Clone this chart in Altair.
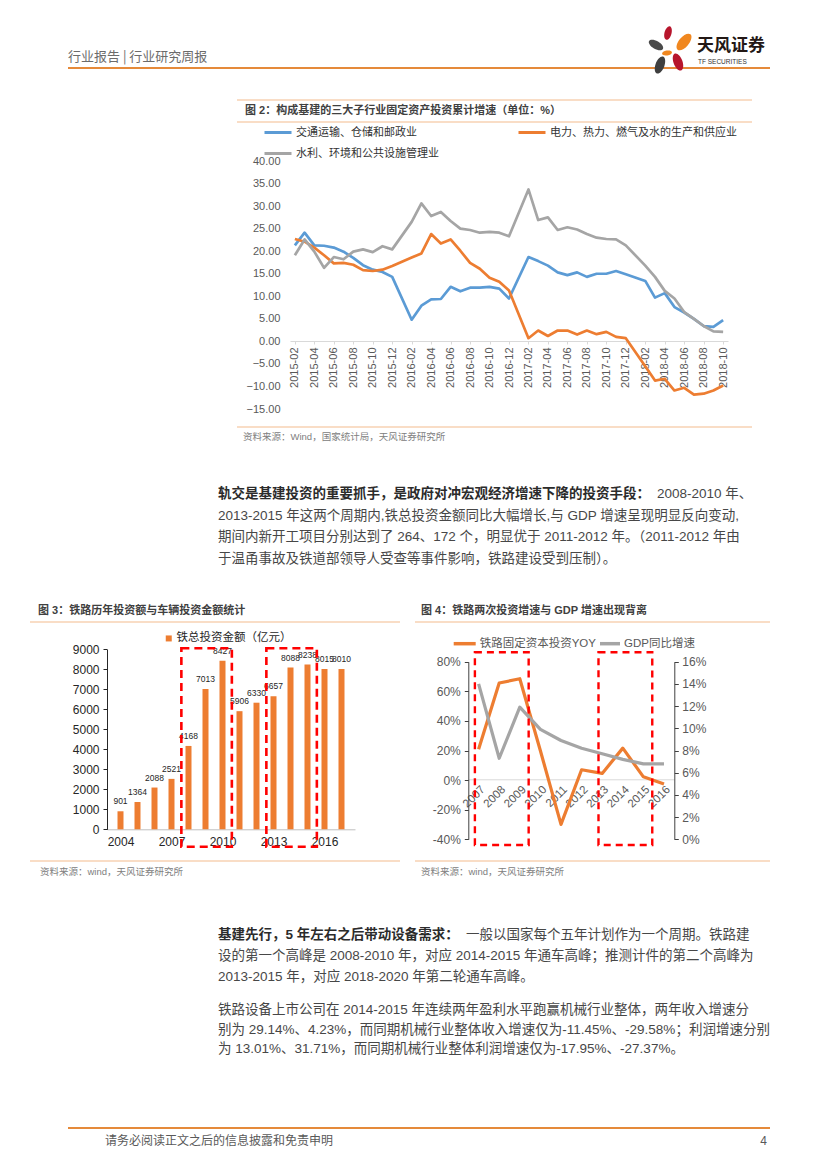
import altair as alt
import pandas as pd

W, H = 811, 1150
CJK = "Noto Sans CJK SC"
LAT = "Liberation Sans"
MIX = "Liberation Sans, Noto Sans CJK SC"
HEAD_LINE = "#E58A3A"
THIN_LINE = "#F4BC8E"
TXT = "#474747"

# ---------------- Figure 2 : cumulative FAI growth (%) ----------------
fig2_axis_months = [
    "2015-02", "2015-03", "2015-04", "2015-05", "2015-06", "2015-07", "2015-08", "2015-09", "2015-10", "2015-11", "2015-12",
    "2016-01", "2016-02", "2016-03", "2016-04", "2016-05", "2016-06", "2016-07", "2016-08", "2016-09", "2016-10", "2016-11", "2016-12",
    "2017-01", "2017-02", "2017-03", "2017-04", "2017-05", "2017-06", "2017-07", "2017-08", "2017-09", "2017-10", "2017-11", "2017-12",
    "2018-01", "2018-02", "2018-03", "2018-04", "2018-05", "2018-06", "2018-07", "2018-08", "2018-09", "2018-10",
]
fig2_tick_months = [
    "2015-02", "2015-04", "2015-06", "2015-08", "2015-10", "2015-12",
    "2016-02", "2016-04", "2016-06", "2016-08", "2016-10", "2016-12",
    "2017-02", "2017-04", "2017-06", "2017-08", "2017-10", "2017-12",
    "2018-02", "2018-04", "2018-06", "2018-08", "2018-10",
]
fig2_months = [
    "2015-02", "2015-03", "2015-04", "2015-05", "2015-06", "2015-07", "2015-08", "2015-09", "2015-10", "2015-11", "2015-12",
    "2016-02", "2016-03", "2016-04", "2016-05", "2016-06", "2016-07", "2016-08", "2016-09", "2016-10", "2016-11", "2016-12",
    "2017-02", "2017-03", "2017-04", "2017-05", "2017-06", "2017-07", "2017-08", "2017-09", "2017-10", "2017-11", "2017-12",
    "2018-02", "2018-03", "2018-04", "2018-05", "2018-06", "2018-07", "2018-08", "2018-09", "2018-10",
]
fig2_transport = [
    21.3, 24.1, 21.3, 21.2, 20.8, 19.9, 18.5, 16.9, 15.9, 15.4, 14.3,
    4.8, 7.9, 9.3, 9.4, 12.1, 11.1, 11.9, 11.9, 12.1, 11.7, 9.5,
    18.7, 17.8, 16.8, 15.3, 14.7, 15.3, 14.3, 15.0, 15.0, 15.6, 14.9,
    13.4, 9.7, 10.7, 7.6, 6.4, 5.0, 3.4, 3.2, 4.7,
]
fig2_power = [
    22.7, 22.1, 20.8, 19.1, 17.3, 17.4, 17.0, 15.8, 15.6, 15.9, 16.7,
    18.6, 19.5, 23.8, 21.7, 22.6, 20.1, 17.4, 16.1, 14.1, 13.2, 11.3,
    0.7, 2.4, 1.2, 2.4, 2.4, 1.5, 2.4, 1.6, 2.1, 1.0, 0.7,
    -5.5, -8.7, -8.3, -10.9, -10.3, -11.8, -11.6, -10.9, -9.8,
]
fig2_water = [
    19.1, 22.6, 19.9, 16.3, 18.7, 18.2, 19.9, 20.4, 19.8, 21.1, 20.4,
    26.5, 30.6, 27.8, 28.7, 26.7, 25.0, 24.7, 24.1, 24.3, 24.1, 23.3,
    33.7, 26.9, 27.5, 24.7, 25.3, 24.8, 23.8, 23.0, 22.7, 22.6, 21.3,
    16.8, 14.3, 11.2, 9.5, 6.5, 5.0, 3.4, 2.2, 2.1,
]
fig2_series = ["交通运输、仓储和邮政业", "电力、热力、燃气及水的生产和供应业", "水利、环境和公共设施管理业"]
fig2_colors = ["#5B9BD5", "#ED7D31", "#A5A5A5"]
fig2_yticks = [-15, -10, -5, 0, 5, 10, 15, 20, 25, 30, 35, 40]

# ---------------- Figure 3 : railway investment (100m yuan) ----------------
fig3_years = [2004, 2005, 2006, 2007, 2008, 2009, 2010, 2011, 2012, 2013, 2014, 2015, 2016, 2017]
fig3_invest = [901, 1364, 2088, 2521, 4168, 7013, 8427, 5906, 6330, 6657, 8088, 8238, 8015, 8010]
fig3_xticks = [2004, 2007, 2010, 2013, 2016]
fig3_yticks = [0, 1000, 2000, 3000, 4000, 5000, 6000, 7000, 8000, 9000]
fig3_series = ["铁总投资金额（亿元）"]
fig3_hl_start = [2008, 2013]
fig3_hl_end = [2010, 2015]

# ---------------- Figure 4 : railway FAI yoy vs GDP growth ----------------
fig4_years = [2007, 2008, 2009, 2010, 2011, 2012, 2013, 2014, 2015, 2016]
fig4_rail = [20.8, 65.6, 68.5, 19.8, -29.9, 7.0, 4.5, 21.6, 2.2, -2.7]
fig4_gdp = [14.0, 7.3, 11.9, 9.9, 8.9, 8.2, 7.7, 7.2, 6.8, 6.8]
fig4_series = ["铁路固定资本投资YOY", "GDP同比增速"]
fig4_left_ticks = [-40, -20, 0, 20, 40, 60, 80]
fig4_right_ticks = [0, 2, 4, 6, 8, 10, 12, 14, 16]
fig4_hl_start = [2007, 2013]
fig4_hl_end = [2009, 2015]

# ---------------- Page texts ----------------
header_text = "行业报告 | 行业研究周报"
logo_cn = "天风证券"
logo_en = "TF SECURITIES"
fig2_title = "图 2：构成基建的三大子行业固定资产投资累计增速（单位：%）"
fig2_source = "资料来源：Wind，国家统计局，天风证券研究所"
fig3_title = "图 3：铁路历年投资额与车辆投资金额统计"
fig4_title = "图 4：铁路两次投资增速与 GDP 增速出现背离"
fig34_source = "资料来源：wind，天风证券研究所"
para1_bold = "轨交是基建投资的重要抓手，是政府对冲宏观经济增速下降的投资手段："
para1_lines = [
    "2008-2010 年、",
    "2013-2015 年这两个周期内,铁总投资金额同比大幅增长,与 GDP 增速呈现明显反向变动,",
    "期间内新开工项目分别达到了 264、172 个，明显优于 2011-2012 年。（2011-2012 年由",
    "于温甬事故及铁道部领导人受查等事件影响，铁路建设受到压制）。",
]
para2_bold = "基建先行，5 年左右之后带动设备需求："
para2_lines = [
    "一般以国家每个五年计划作为一个周期。铁路建",
    "设的第一个高峰是 2008-2010 年，对应 2014-2015 年通车高峰；推测计件的第二个高峰为",
    "2013-2015  年，对应 2018-2020 年第二轮通车高峰。",
]
para3_lines = [
    "铁路设备上市公司在 2014-2015 年连续两年盈利水平跑赢机械行业整体，两年收入增速分",
    "别为 29.14%、4.23%，而同期机械行业整体收入增速仅为-11.45%、-29.58%；利润增速分别",
    "为 13.01%、31.71%，而同期机械行业整体利润增速仅为-17.95%、-27.37%。",
]
footer_text = "请务必阅读正文之后的信息披露和免责申明"
page_no = "4"

one = pd.DataFrame({"k": [0]})


def text_layer(txt, x, y, size, color=TXT, weight="normal", font=MIX, align="left"):
    return alt.Chart(one).mark_text(
        text=txt, align=align, baseline="middle", fontSize=size, font=font,
        fontWeight=weight, color=color,
    ).encode(x=alt.value(x), y=alt.value(y))


def hrule(x1, x2, y, color, width=1.0):
    return alt.Chart(one).mark_rule(color=color, strokeWidth=width).encode(
        x=alt.value(x1), x2=alt.value(x2), y=alt.value(y)
    )


ELLIPSE = "M0,-1 A0.5,1 0 1,1 0,1 A0.5,1 0 1,1 0,-1 Z"


def petal(x, y, h, angle, color):
    return alt.Chart(one).mark_point(
        shape=ELLIPSE, filled=True, size=h * h, angle=angle, color=color,
        opacity=1, strokeWidth=0,
    ).encode(x=alt.value(x), y=alt.value(y))


decor = [
    # header
    text_layer(header_text, 60, 49, 13, "#6b6b6b", font=CJK),
    hrule(60, 762, 60, HEAD_LINE, 1.8),
    petal(660, 25, 14, 15, "#B7152C"),
    petal(676, 34, 20, 40, "#F0871F"),
    petal(648, 37, 16, 300, "#4A4A4A"),
    petal(659, 45, 10, 80, "#F0871F"),
    petal(670, 54, 18, 340, "#B7152C"),
    petal(652, 57, 18, 20, "#3F3F3F"),
    text_layer(logo_cn, 689, 38, 17, "#231815", weight="bold", font=CJK),
    text_layer(logo_en, 690, 54, 6.5, "#333333", font=LAT),
    # figure 2 frame
    hrule(229, 744, 92, THIN_LINE, 1.2),
    text_layer(fig2_title, 237, 103, 11, "#404040", weight="bold"),
    hrule(229, 744, 114, THIN_LINE, 1.2),
    hrule(229, 744, 419, THIN_LINE, 1.2),
    text_layer(fig2_source, 235, 429, 9.5, "#808080"),
    # paragraph 1
    text_layer(para1_bold, 210, 486, 13.5, "#2b2b2b", weight="bold"),
    text_layer(para1_lines[0], 649, 486, 13.5),
    text_layer(para1_lines[1], 210, 507.5, 13.5),
    text_layer(para1_lines[2], 210, 529, 13.5),
    text_layer(para1_lines[3], 210, 550.5, 13.5),
    # figure 3/4 frames
    text_layer(fig3_title, 30, 603, 11, "#404040", weight="bold"),
    hrule(22, 392, 614, THIN_LINE, 1.2),
    text_layer(fig4_title, 413, 603, 11, "#404040", weight="bold"),
    hrule(407, 762, 614, THIN_LINE, 1.2),
    hrule(22, 392, 853, THIN_LINE, 1.2),
    hrule(407, 762, 853, THIN_LINE, 1.2),
    text_layer(fig34_source, 32, 864, 9.5, "#808080"),
    text_layer(fig34_source, 413, 864, 9.5, "#808080"),
    # paragraph 2
    text_layer(para2_bold, 210, 927, 13.5, "#2b2b2b", weight="bold"),
    text_layer(para2_lines[0], 458, 927, 13.5),
    text_layer(para2_lines[1], 210, 948, 13.5),
    text_layer(para2_lines[2], 210, 969, 13.5),
    # paragraph 3
    text_layer(para3_lines[0], 210, 1002, 13.5),
    text_layer(para3_lines[1], 210, 1022, 13.5),
    text_layer(para3_lines[2], 210, 1041, 13.5),
    # footer
    hrule(60, 762, 1120, HEAD_LINE, 1.8),
    text_layer(footer_text, 97, 1133, 12, "#595959", font=CJK),
    text_layer(page_no, 759, 1133, 12, "#595959", font=LAT, align="right"),
]

# ---------------- Figure 2 chart ----------------
n2 = len(fig2_months)
df2 = pd.DataFrame({
    "month": fig2_months * 3,
    "value": fig2_transport + fig2_power + fig2_water,
    "series": [fig2_series[0]] * n2 + [fig2_series[1]] * n2 + [fig2_series[2]] * n2,
})
ax2x = alt.Axis(
    orient="bottom", offset=-(H - 333), values=fig2_tick_months, labelAngle=270,
    labelFontSize=11, labelColor="#595959", labelFont=LAT, domainColor="#D9D9D9",
    tickColor="#D9D9D9", tickSize=3, labelPadding=3, title=None, grid=False,
    labelOverlap=False,
)
ax2y = alt.Axis(
    orient="left", offset=-282, values=fig2_yticks, format=".2f", domain=False,
    ticks=False, labelPadding=10, labelFontSize=11, labelColor="#595959",
    labelFont=LAT, title=None, grid=False,
)
fig2 = alt.Chart(df2).mark_line(strokeWidth=2.7, strokeJoin="round").encode(
    x=alt.X("month:O", sort=fig2_axis_months,
            scale=alt.Scale(type="point", domain=fig2_axis_months, range=[282, 720], padding=0.5),
            axis=ax2x),
    y=alt.Y("value:Q", scale=alt.Scale(domain=[-15, 40], range=[401, 153], nice=False, zero=False),
            axis=ax2y),
    color=alt.Color("series:N", scale=alt.Scale(domain=fig2_series, range=fig2_colors),
                    legend=alt.Legend(orient="none", legendX=255, legendY=109.5, columns=2,
                                      direction="horizontal",
                                      symbolType="stroke", symbolSize=729, symbolStrokeWidth=3,
                                      labelFontSize=11, labelFont=CJK, labelColor="#333333",
                                      labelLimit=400, title=None, columnPadding=73, rowPadding=-16,
                                      labelOffset=3, padding=0)),
)

# ---------------- Figure 3 chart ----------------
df3 = pd.DataFrame({"year": fig3_years, "invest": fig3_invest,
                    "series": fig3_series * len(fig3_years)})
sc3x = alt.Scale(domain=[2003.5, 2017.5], range=[99, 347], nice=False, zero=False)
ax3x = alt.Axis(orient="bottom", offset=-(H - 821.3), values=fig3_xticks, format="d",
                ticks=False, domainColor="#BFBFBF", labelFontSize=12, labelColor="#262626",
                labelFont=LAT, labelPadding=7, grid=False, title=None, labelFlush=False)
sc3y = alt.Scale(domain=[0, 9000], range=[821.3, 641.3], nice=False, zero=False)
ax3y = alt.Axis(orient="left", offset=-99, values=fig3_yticks, format="d", domainColor="#262626",
                tickColor="#262626", tickSize=4, labelPadding=4, labelFontSize=12,
                labelColor="#262626", labelFont=LAT, grid=False, title=None)
bars3 = alt.Chart(df3).mark_bar(size=6).encode(
    x=alt.X("year:Q", scale=sc3x, axis=ax3x),
    y=alt.Y("invest:Q", scale=sc3y, axis=ax3y),
    color=alt.Color("series:N", scale=alt.Scale(domain=fig3_series, range=["#ED7D31"]),
                    legend=alt.Legend(orient="none", legendX=155, legendY=624.7, symbolType="square",
                                      symbolSize=36, labelFontSize=11.5, labelFont=CJK,
                                      labelColor="#262626", labelLimit=400, title=None,
                                      labelOffset=2, padding=0)),
)
labels3 = alt.Chart(df3).mark_text(dy=-5, baseline="bottom", fontSize=8.5, font=LAT,
                                   color="#262626").encode(
    x=alt.X("year:Q", scale=sc3x, axis=ax3x),
    y=alt.Y("invest:Q", scale=sc3y, axis=ax3y),
    text=alt.Text("invest:Q", format="d"),
)
hl3 = alt.Chart(pd.DataFrame({"start": fig3_hl_start, "end": fig3_hl_end})).transform_calculate(
    x0="datum.start - 0.42", x1="datum.end + 0.55"
).mark_rect(fillOpacity=0, stroke="#FF0000", strokeWidth=2.6, strokeDash=[8, 5]).encode(
    x=alt.X("x0:Q", scale=sc3x, axis=ax3x), x2="x1:Q",
    y=alt.value(640.3), y2=alt.value(838.7),
)
fig3 = alt.layer(bars3, labels3, hl3)

# ---------------- Figure 4 chart ----------------
df4 = pd.DataFrame({"year": fig4_years, "rail": fig4_rail, "gdp": fig4_gdp,
                    "s1": [fig4_series[0]] * len(fig4_years),
                    "s2": [fig4_series[1]] * len(fig4_years)})
sc4x = alt.Scale(domain=[2006.5, 2016.5], range=[460.3, 666.3], nice=False, zero=False)
ax4x = alt.Axis(orient="bottom", offset=-(H - 771.3), values=fig4_years, format="d",
                ticks=False, domainColor="#D9D9D9", labelAngle=315, labelFontSize=11.5,
                labelColor="#595959", labelFont=LAT, labelPadding=4, grid=False, title=None,
                labelFlush=False, labelOverlap=False)
ax4l = alt.Axis(orient="left", offset=-460.3, values=fig4_left_ticks,
                labelExpr="datum.value + '%'", domainColor="#404040", tickColor="#404040",
                tickSize=4, labelPadding=4, labelFontSize=12, labelColor="#595959",
                labelFont=LAT, grid=False, title=None)
ax4r = alt.Axis(orient="right", offset=-(W - 666.3), values=fig4_right_ticks,
                labelExpr="datum.value + '%'", domainColor="#404040", tickColor="#404040",
                tickSize=4, labelPadding=3.5, labelFontSize=12, labelColor="#595959",
                labelFont=LAT, grid=False, title=None)
rail4 = alt.Chart(df4).mark_line(strokeWidth=3.2, strokeJoin="round").encode(
    x=alt.X("year:Q", scale=sc4x, axis=ax4x),
    y=alt.Y("rail:Q", scale=alt.Scale(domain=[-40, 80], range=[831.3, 653.7], nice=False, zero=False),
            axis=ax4l),
    color=alt.Color("s1:N", scale=alt.Scale(domain=[fig4_series[0]], range=["#ED7D31"]),
                    legend=alt.Legend(orient="none", legendX=443.7, legendY=622.7,
                                      symbolType="stroke", symbolSize=484, symbolStrokeWidth=3.5,
                                      labelFontSize=11.5, labelFont=MIX, labelColor="#595959",
                                      labelLimit=400, title=None, labelOffset=2, padding=0)),
)
gdp4 = alt.Chart(df4).mark_line(strokeWidth=3.2, strokeJoin="round").encode(
    x=alt.X("year:Q", scale=sc4x, axis=ax4x),
    y=alt.Y("gdp:Q", scale=alt.Scale(domain=[0, 16], range=[831.3, 653.7], nice=False, zero=False),
            axis=ax4r),
    color=alt.Color("s2:N", scale=alt.Scale(domain=[fig4_series[1]], range=["#A5A5A5"]),
                    legend=alt.Legend(orient="none", legendX=590, legendY=623.7,
                                      symbolType="stroke", symbolSize=400, symbolStrokeWidth=3.5,
                                      labelFontSize=11.5, labelFont=MIX, labelColor="#595959",
                                      labelLimit=400, title=None, labelOffset=2, padding=0)),
)
hl4 = alt.Chart(pd.DataFrame({"start": fig4_hl_start, "end": fig4_hl_end})).transform_calculate(
    x0="datum.start - 0.18", x1="datum.end + 0.43"
).mark_rect(fillOpacity=0, stroke="#FF0000", strokeWidth=2.4, strokeDash=[7, 5]).encode(
    x=alt.X("x0:Q", scale=sc4x, axis=ax4x), x2="x1:Q",
    y=alt.value(644.3), y2=alt.value(837),
)
fig4 = alt.layer(rail4, gdp4, hl4).resolve_scale(y="independent", color="independent")

chart = alt.layer(*decor, fig2, fig3, fig4).resolve_scale(
    x="independent", y="independent", color="independent"
).properties(
    width=W, height=H, padding=0, autosize=alt.AutoSizeParams(type="none")
).configure_view(stroke="transparent").configure_axis(grid=False)

chart.save("out.html", embed_options={"renderer": "svg", "actions": False})
